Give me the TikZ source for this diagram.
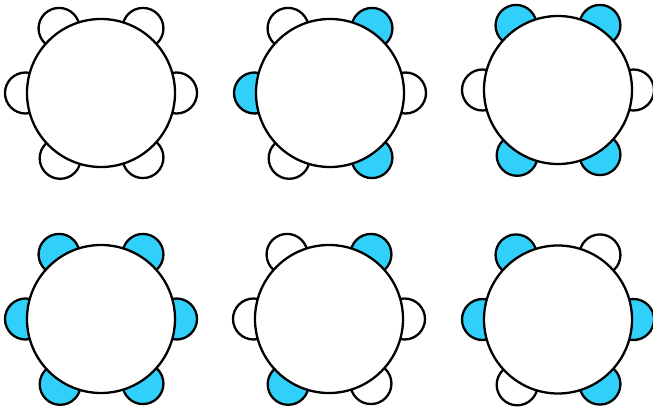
\documentclass[tikz,border=0pt]{standalone}
\usetikzlibrary{calc}
\definecolor{seatblue}{HTML}{30D0FA}
\begin{document}
\begin{tikzpicture}[x=1pt,y=1pt,
  tablebox/.style={circle,draw=black,fill=white,line width=2.3pt,inner sep=0pt,minimum size=148pt},
  chairw/.style={circle,draw=black,fill=white,line width=2.3pt,inner sep=0pt,minimum size=41pt},
  chairb/.style={circle,draw=black,fill=seatblue,line width=2.3pt,inner sep=0pt,minimum size=41pt}]
\useasboundingbox (0,0) rectangle (653,410);
% table centres
\coordinate (c1) at (101,317);
\coordinate (c2) at (330,317);
\coordinate (c3) at (558,320);
\coordinate (c4) at (101,91);
\coordinate (c5) at (329,91);
\coordinate (c6) at (558,90.5);
% chairs: TL, TR, L, R, BL, BR
\foreach \t/\a/\b/\c/\d/\e/\f in {
  1/chairw/chairw/chairw/chairw/chairw/chairw,
  2/chairw/chairb/chairb/chairw/chairw/chairb,
  3/chairb/chairb/chairw/chairw/chairb/chairb,
  4/chairb/chairb/chairb/chairb/chairb/chairb,
  5/chairw/chairb/chairw/chairw/chairb/chairw,
  6/chairb/chairw/chairb/chairb/chairw/chairb}{
  \node[\a] (t\t tl) at ($(c\t)+(123:77)$) {};
  \node[\b] (t\t tr) at ($(c\t)+(57:77)$) {};
  \node[\c] (t\t l) at ($(c\t)+(180:75.5)$) {};
  \node[\d] (t\t r) at ($(c\t)+(0:75.5)$) {};
  \node[\e] (t\t bl) at ($(c\t)+(238:77)$) {};
  \node[\f] (t\t br) at ($(c\t)+(303:77)$) {};
}
\foreach \t in {1,...,6}{
  \node[tablebox] (t\t) at (c\t) {};
}
\end{tikzpicture}
\end{document}
